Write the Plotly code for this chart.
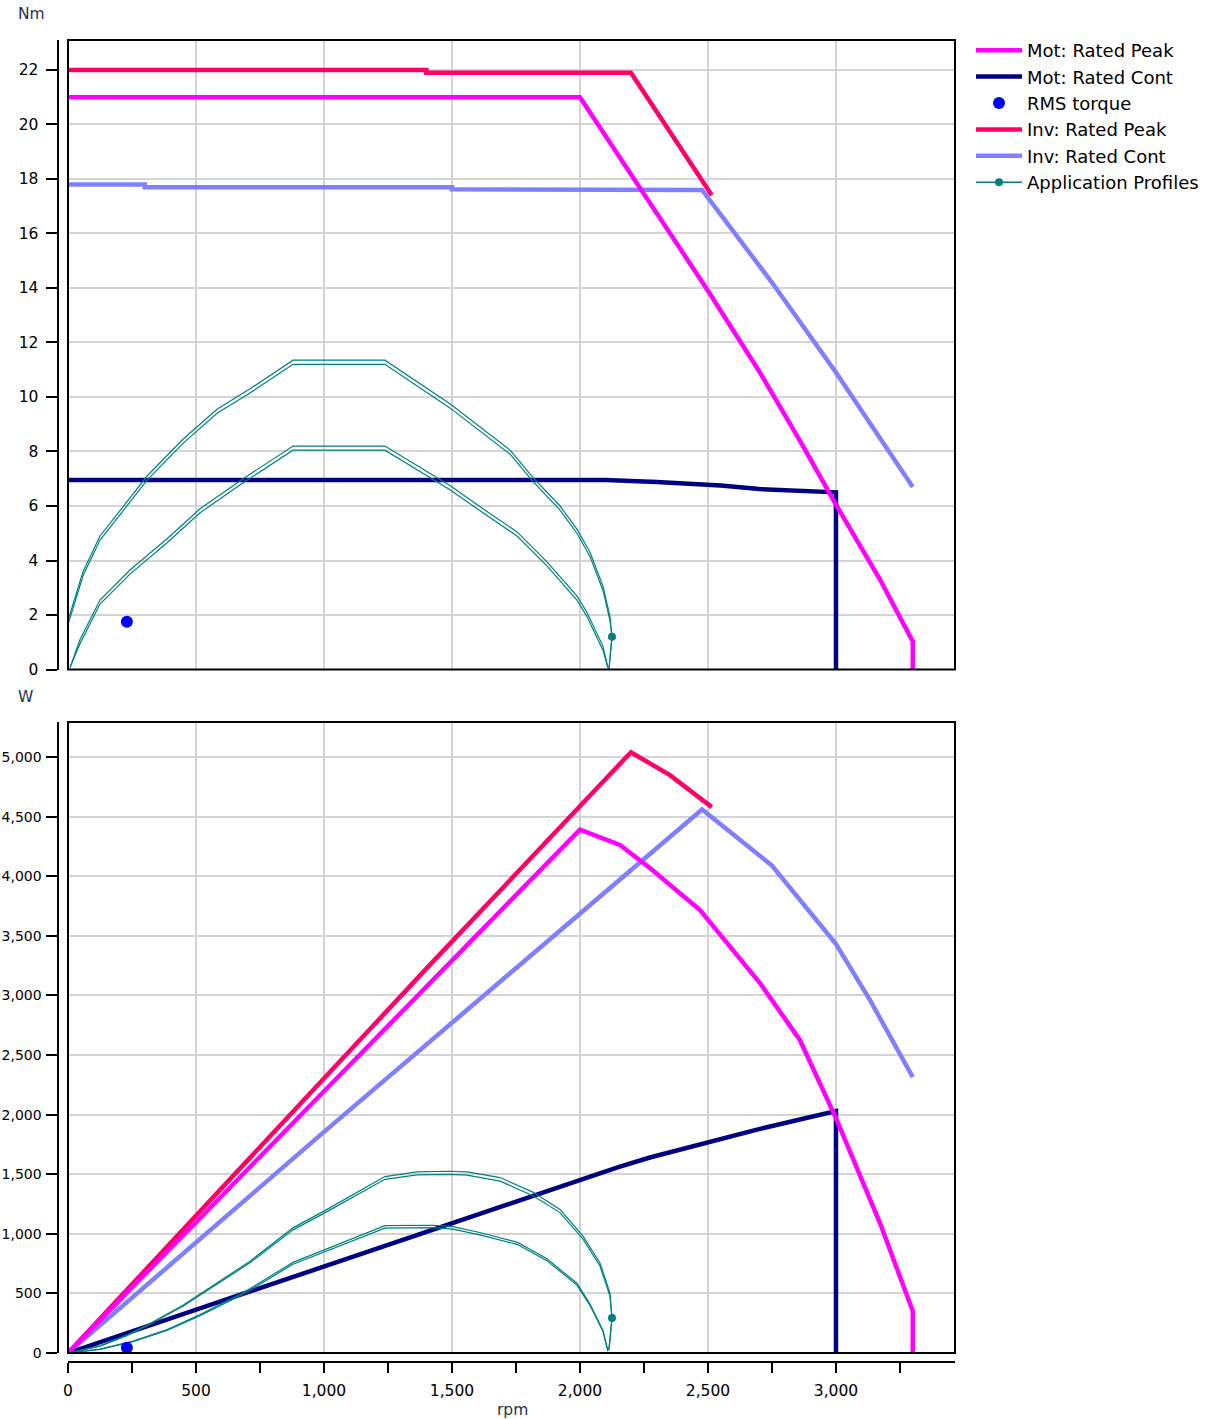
import plotly.graph_objects as go

# ---------------- data ----------------
# Torque chart (Nm vs rpm)
mot_peak_t_rpm = [0, 2000, 2500, 2703, 2859, 3000, 3172, 3300, 3300]
mot_peak_t = [21.0, 21.0, 13.9, 10.9, 8.4, 6.05, 3.3, 1.03, 0]

mot_cont_t_rpm = [0, 2100, 2300, 2550, 2700, 2895, 3000, 3000]
mot_cont_t = [6.95, 6.95, 6.88, 6.75, 6.62, 6.55, 6.5, 0]

inv_peak_t_rpm = [0, 1400, 1400, 2199, 2515]
inv_peak_t = [22.0, 22.0, 21.9, 21.9, 17.4]

inv_cont_t_rpm = [0, 300, 300, 1500, 1500, 2477, 2750, 3000, 3300]
inv_cont_t = [17.8, 17.8, 17.7, 17.7, 17.62, 17.6, 14.2, 10.9, 6.7]

rms_rpm = [230]
rms_t = [1.75]
rms_p = [45]

prof1_t_rpm = [0, 0, 59, 125, 230, 309, 449, 582, 711, 879, 1238, 1492, 1727, 1816,
               1922, 1988, 2039, 2090, 2117, 2125, 2113]
prof1_t_a = [0, 1.8, 3.6, 4.9, 6.15, 7.1, 8.45, 9.55, 10.3, 11.35, 11.35, 9.75, 8.05, 7.05,
             6.0, 5.15, 4.3, 3.05, 1.95, 1.2, 0]
prof1_t_b = [0, 1.65, 3.45, 4.75, 6.0, 6.95, 8.3, 9.4, 10.15, 11.2, 11.2, 9.6, 7.9, 6.9,
             5.85, 5.0, 4.15, 2.9, 1.8, 1.2, 0]

prof2_t_rpm = [8, 47, 125, 242, 387, 516, 684, 879, 1238, 1492, 1621, 1754, 1871, 1988,
               2027, 2090, 2109]
prof2_t_a = [0.07, 1.1, 2.55, 3.65, 4.8, 5.9, 7.0, 8.2, 8.2, 6.75, 5.9, 5.05, 3.95, 2.7,
             2.1, 0.85, 0.07]
prof2_t_b = [0.07, 0.95, 2.4, 3.5, 4.65, 5.75, 6.85, 8.05, 8.05, 6.6, 5.75, 4.9, 3.8, 2.55,
             1.95, 0.7, 0.07]

prof_end_rpm = [2125]
prof_end_t = [1.2]
prof_end_p = [294]

# Power chart (W vs rpm)
mot_peak_p_rpm = [0, 2000, 2156, 2273, 2469, 2703, 2859, 3000, 3172, 3300, 3300]
mot_peak_p = [0, 4390, 4262, 4069, 3716, 3104, 2626, 1971, 1090, 352, 0]

mot_cont_p_rpm = [0, 2000, 2150, 2273, 2400, 2500, 2703, 3000, 3000]
mot_cont_p = [0, 1455, 1560, 1640, 1710, 1765, 1880, 2030, 0]

inv_peak_p_rpm = [0, 1400, 2199, 2350, 2515]
inv_peak_p = [0, 3225, 5040, 4850, 4580]

inv_cont_p_rpm = [0, 1000, 2477, 2750, 3000, 3133, 3300]
inv_cont_p = [0, 1855, 4560, 4090, 3430, 2960, 2315]

prof1_p_rpm = [0, 125, 230, 309, 449, 582, 711, 879, 1012, 1238, 1363, 1492, 1559, 1688,
               1816, 1922, 2012, 2078, 2117, 2125, 2113]
prof1_p_a = [0, 60, 150, 235, 400, 585, 770, 1050, 1205, 1480, 1520, 1525, 1520, 1472,
             1350, 1205, 980, 755, 505, 294, 25]
prof1_p_b = [0, 58, 145, 229, 392, 575, 757, 1033, 1186, 1457, 1495, 1498, 1492, 1442,
             1320, 1178, 955, 730, 480, 294, 25]

prof2_p_rpm = [8, 125, 254, 387, 516, 684, 879, 1102, 1238, 1426, 1504, 1621, 1754, 1871,
               1988, 2039, 2090, 2109]
prof2_p_a = [1, 33, 100, 196, 322, 505, 760, 952, 1068, 1072, 1060, 1005, 930, 790,
             585, 410, 190, 15]
prof2_p_b = [1, 31, 96, 189, 313, 493, 745, 934, 1048, 1052, 1040, 985, 912, 775,
             570, 400, 180, 15]

# ---------------- styling ----------------
C_MOT_PEAK = "#FF00FF"
C_MOT_CONT = "#000080"
C_RMS = "#0000FF"
C_INV_PEAK = "#FF0066"
C_INV_CONT = "#8080FF"
C_PROF = "#008080"
LW = 4.5
PW = 1.2
FONT = "DejaVu Sans"

W, H = 1226, 1419
X0, X1 = 68 / W, 955 / W
TOP_DOM = [1 - 669.5 / H, 1 - 40 / H]
BOT_DOM = [1 - 1353 / H, 1 - 722 / H]
YAX_POS = 57.5 / W
XAX2_POS = 1 - 1362 / H

fig = go.Figure()


def line(x, y, color, width, name=None, top=True, legend=False, rank=None):
    fig.add_trace(go.Scatter(
        x=x, y=y, mode="lines", name=name,
        line=dict(color=color, width=width),
        xaxis="x" if top else "x2", yaxis="y" if top else "y2",
        showlegend=legend, legendrank=rank if rank else 1000,
        hoverinfo="skip"))


# --- top chart (torque) ---
line(inv_cont_t_rpm, inv_cont_t, C_INV_CONT, LW, "Inv: Rated Cont", legend=True, rank=5)
line(inv_peak_t_rpm, inv_peak_t, C_INV_PEAK, LW, "Inv: Rated Peak", legend=True, rank=4)
line(mot_cont_t_rpm, mot_cont_t, C_MOT_CONT, LW, "Mot: Rated Cont", legend=True, rank=2)
line(mot_peak_t_rpm, mot_peak_t, C_MOT_PEAK, LW, "Mot: Rated Peak", legend=True, rank=1)
for xs, ys in [(prof1_t_rpm, prof1_t_a), (prof1_t_rpm, prof1_t_b),
               (prof2_t_rpm, prof2_t_a), (prof2_t_rpm, prof2_t_b)]:
    line(xs, ys, C_PROF, PW)
fig.add_trace(go.Scatter(x=prof_end_rpm, y=prof_end_t, mode="markers",
                         marker=dict(color=C_PROF, size=8), showlegend=False,
                         xaxis="x", yaxis="y", hoverinfo="skip"))
fig.add_trace(go.Scatter(x=rms_rpm, y=rms_t, mode="markers", name="RMS torque",
                         marker=dict(color=C_RMS, size=12), showlegend=True, legendrank=3,
                         xaxis="x", yaxis="y", hoverinfo="skip"))
# legend-only entry for application profiles
fig.add_trace(go.Scatter(x=[None], y=[None], mode="lines+markers", name="Application Profiles",
                         line=dict(color=C_PROF, width=1.5), marker=dict(color=C_PROF, size=8),
                         showlegend=True, legendrank=6, xaxis="x", yaxis="y"))

# --- bottom chart (power) ---
line(inv_cont_p_rpm, inv_cont_p, C_INV_CONT, LW, top=False)
line(inv_peak_p_rpm, inv_peak_p, C_INV_PEAK, LW, top=False)
line(mot_cont_p_rpm, mot_cont_p, C_MOT_CONT, LW, top=False)
line(mot_peak_p_rpm, mot_peak_p, C_MOT_PEAK, LW, top=False)
for xs, ys in [(prof1_p_rpm, prof1_p_a), (prof1_p_rpm, prof1_p_b),
               (prof2_p_rpm, prof2_p_a), (prof2_p_rpm, prof2_p_b)]:
    line(xs, ys, C_PROF, PW, top=False)
fig.add_trace(go.Scatter(x=prof_end_rpm, y=prof_end_p, mode="markers",
                         marker=dict(color=C_PROF, size=8), showlegend=False,
                         xaxis="x2", yaxis="y2", hoverinfo="skip"))
fig.add_trace(go.Scatter(x=rms_rpm, y=rms_p, mode="markers",
                         marker=dict(color=C_RMS, size=12), showlegend=False,
                         xaxis="x2", yaxis="y2", hoverinfo="skip"))

GRID = "#D4D4D4"
tickfont = dict(family=FONT, size=15.5, color="#000000")
tickfont_w = dict(family=FONT, size=14, color="#000000")
titlefont = dict(family=FONT, size=15.5, color="#1F3050")
XRANGE = [0, 3465]

fig.update_layout(
    width=W, height=H,
    margin=dict(l=0, r=0, t=0, b=0, autoexpand=False),
    paper_bgcolor="white", plot_bgcolor="white",
    font=dict(family=FONT, color="#000000"),
    xaxis=dict(domain=[X0, X1], anchor="y", range=XRANGE, dtick=500, tick0=0,
               showgrid=True, gridcolor=GRID, gridwidth=2, showticklabels=False,
               ticks="", showline=False, zeroline=False, automargin=False),
    yaxis=dict(domain=TOP_DOM, anchor="free", position=YAX_POS, range=[0, 23.1],
               dtick=2, tick0=0, showgrid=True, gridcolor=GRID, gridwidth=2,
               ticks="outside", ticklen=11, tickwidth=2, tickcolor="black",
               showline=True, linecolor="black", linewidth=2, zeroline=False,
               tickfont=tickfont, ticklabelstandoff=4, automargin=False),
    xaxis2=dict(domain=[X0, X1], anchor="free", position=XAX2_POS, range=XRANGE,
                dtick=500, tick0=0, tickformat=",d", showgrid=True, gridcolor=GRID,
                gridwidth=2, ticks="outside", ticklen=10, tickwidth=2, tickcolor="black",
                minor=dict(dtick=250, ticks="outside", ticklen=10, tickwidth=2,
                           tickcolor="black", showgrid=False),
                showline=True, linecolor="black", linewidth=2, zeroline=False,
                tickfont=tickfont, ticklabelstandoff=4, automargin=False),
    yaxis2=dict(domain=BOT_DOM, anchor="free", position=YAX_POS, range=[0, 5294],
                dtick=500, tick0=0, tickformat=",d", showgrid=True, gridcolor=GRID,
                gridwidth=2, ticks="outside", ticklen=11, tickwidth=2, tickcolor="black",
                showline=True, linecolor="black", linewidth=2, zeroline=False,
                tickfont=tickfont_w, ticklabelstandoff=1, automargin=False),
    legend=dict(x=971 / W, y=1 - 32 / H, xanchor="left", yanchor="top",
                font=dict(family=FONT, size=18, color="#000000"),
                bgcolor="rgba(0,0,0,0)", borderwidth=0, tracegroupgap=0,
                itemwidth=46, traceorder="normal"),
    shapes=[
        dict(type="rect", xref="paper", yref="paper", x0=X0, x1=X1,
             y0=TOP_DOM[0], y1=TOP_DOM[1], line=dict(color="black", width=2), layer="above"),
        dict(type="rect", xref="paper", yref="paper", x0=X0, x1=X1,
             y0=BOT_DOM[0], y1=BOT_DOM[1], line=dict(color="black", width=2), layer="above"),
    ],
    annotations=[
        dict(text="Nm", x=31 / W, y=1 - 14 / H, xref="paper", yref="paper",
             xanchor="center", yanchor="middle", showarrow=False, font=titlefont),
        dict(text="W", x=25 / W, y=1 - 697 / H, xref="paper", yref="paper",
             xanchor="center", yanchor="middle", showarrow=False, font=titlefont),
        dict(text="rpm", x=512 / W, y=1 - 1410 / H, xref="paper", yref="paper",
             xanchor="center", yanchor="middle", showarrow=False, font=titlefont),
    ],
    showlegend=True,
)

fig.write_html("out.html", config={"displayModeBar": False})
